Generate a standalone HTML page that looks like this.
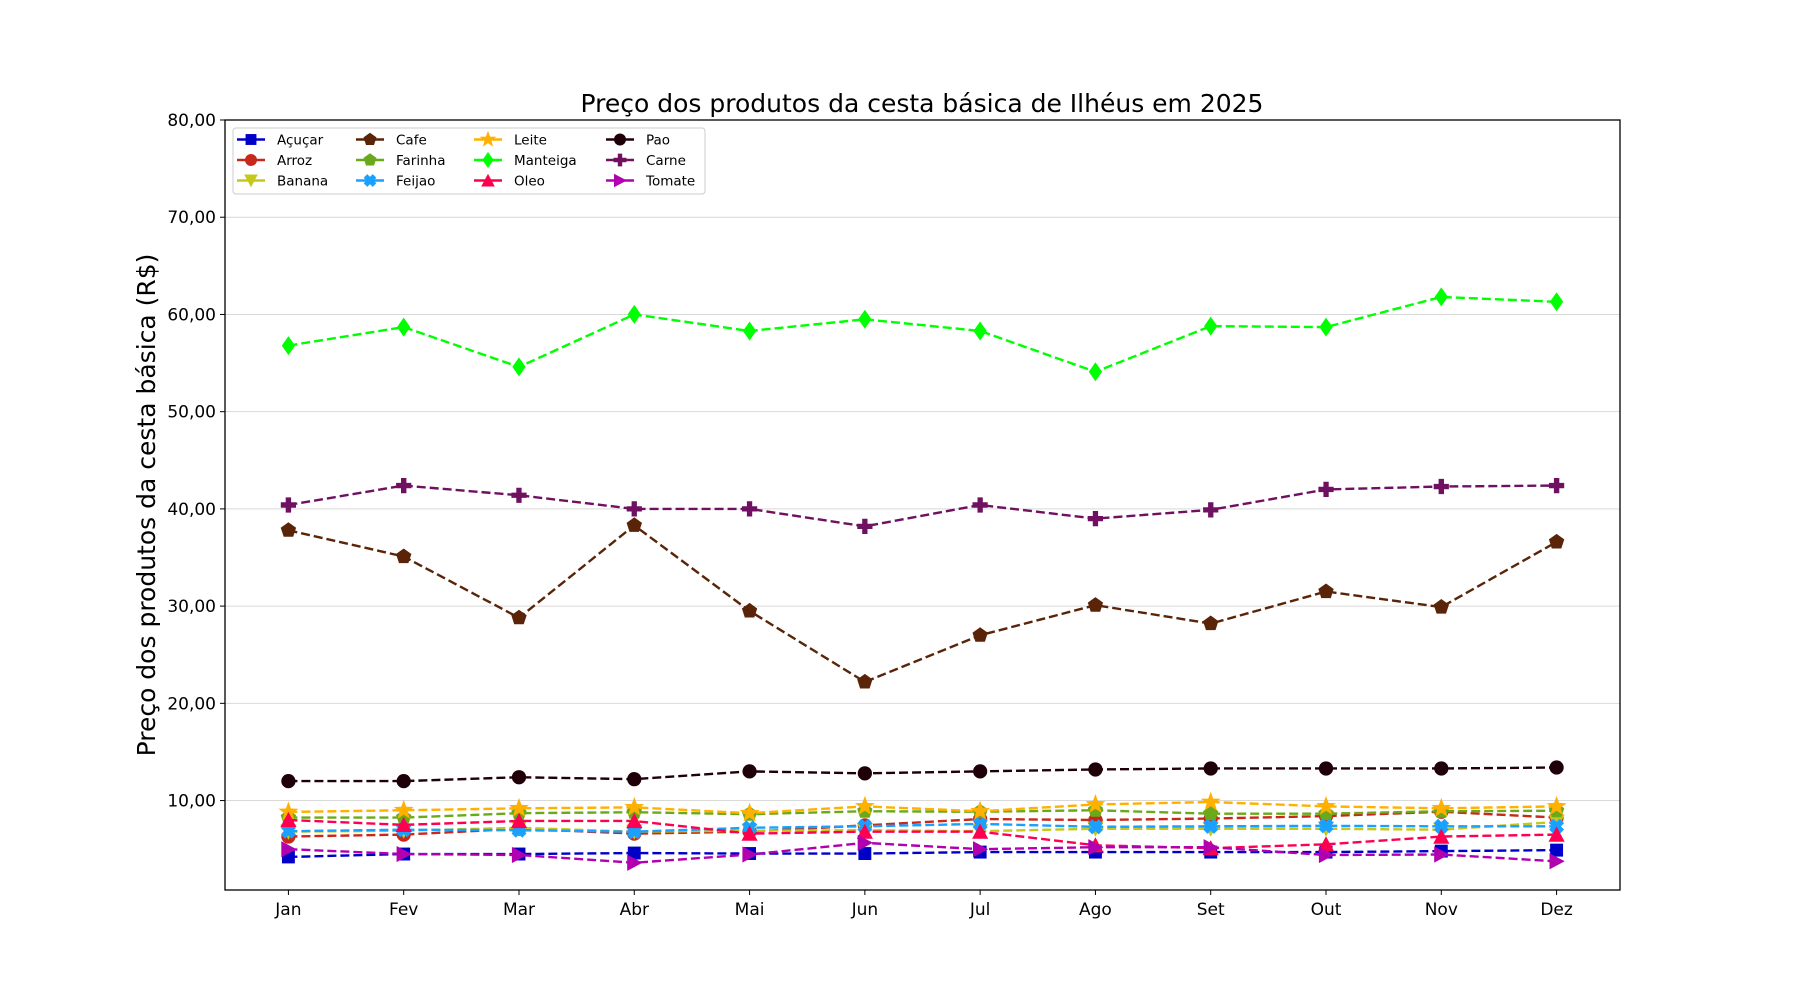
<!DOCTYPE html>
<html><head><meta charset="utf-8"><style>
body{margin:0;background:#fff;}
svg{display:block;font-family:"DejaVu Sans","Liberation Sans",sans-serif;}
</style></head><body>
<svg id="chart" width="1800" height="1000" viewBox="0 0 1800 1000">
<text x="922" y="112" font-size="25" text-anchor="middle">Preço dos produtos da cesta básica de Ilhéus em 2025</text>
<text transform="translate(155,505) rotate(-90)" font-size="25" text-anchor="middle">Preço dos produtos da cesta básica (R$)</text>
<g id="grid"></g><g id="series"></g><g id="axes"></g><g id="legend"></g>
</svg>
<script>
const categories=["Jan","Fev","Mar","Abr","Mai","Jun","Jul","Ago","Set","Out","Nov","Dez"];
const yTicks=[10,20,30,40,50,60,70,80];
const yTickLabels=["10,00","20,00","30,00","40,00","50,00","60,00","70,00","80,00"];
const seriesNames=["Açuçar","Arroz","Banana","Cafe","Farinha","Feijao","Leite","Manteiga","Oleo","Pao","Carne","Tomate"];
const acucar=[4.2,4.5,4.5,4.6,4.55,4.55,4.7,4.7,4.7,4.7,4.8,4.9];
const arroz=[6.3,6.5,7.1,6.6,6.8,7.45,8.1,8.0,8.15,8.4,8.85,8.25];
const banana=[6.8,6.9,7.2,6.8,6.9,6.95,6.85,7.1,7.1,7.1,7.0,7.8];
const cafe=[37.8,35.1,28.8,38.3,29.5,22.2,27.0,30.1,28.2,31.5,29.9,36.6];
const farinha=[8.25,8.25,8.7,8.8,8.6,8.9,8.85,9.0,8.65,8.65,8.9,8.95];
const feijao=[6.85,7.0,6.95,6.8,7.2,7.35,7.6,7.3,7.35,7.4,7.35,7.35];
const leite=[8.83,9.0,9.2,9.3,8.7,9.4,8.9,9.6,9.85,9.4,9.2,9.4];
const manteiga=[56.8,58.7,54.6,60.0,58.3,59.5,58.3,54.1,58.8,58.7,61.8,61.3];
const oleo=[8.0,7.5,7.9,7.9,6.6,6.8,6.8,5.4,5.1,5.5,6.3,6.5];
const pao=[12.0,12.0,12.4,12.2,13.0,12.8,13.0,13.2,13.3,13.3,13.3,13.4];
const carne=[40.4,42.4,41.4,40.0,40.0,38.2,40.4,39.0,39.9,42.0,42.3,42.4];
const tomate=[5.0,4.5,4.4,3.6,4.45,5.65,5.0,5.2,5.2,4.4,4.45,3.75];
const seriesValues=[acucar,arroz,banana,cafe,farinha,feijao,leite,manteiga,oleo,pao,carne,tomate];
const colors=["#0000c8","#c8281c","#c4c81a","#5a2409","#6aaa1a","#1aa0ff","#ffb000","#00ff00","#ff0050","#200008","#701060","#b000b0"];
const markers=["s","o","v","p","p","X","*","D","^","o","P",">"];

const L=225,R=1620,T=120,B=890,YMIN=0.8,YMAX=80;
const x=i=>L+(i+0.55)*(R-L)/12.1;
const y=v=>B-(v-YMIN)*(B-T)/(YMAX-YMIN);
const NS="http://www.w3.org/2000/svg";
function mk(tag,at,parent){const e=document.createElementNS(NS,tag);for(const k in at)e.setAttribute(k,at[k]);parent.appendChild(e);return e;}
function markerShape(type,cx,cy,r,color,parent){
  let pts;
  if(type==="o") return mk("circle",{cx:cx,cy:cy,r:r*0.75,fill:color},parent);
  if(type==="s") return mk("rect",{x:cx-r*0.68,y:cy-r*0.68,width:r*1.36,height:r*1.36,fill:color},parent);
  const poly=arr=>mk("polygon",{points:arr.map(p=>(cx+p[0]).toFixed(1)+","+(cy+p[1]).toFixed(1)).join(" "),fill:color},parent);
  if(type==="v") return poly([[-r*0.85,-r*0.75],[r*0.85,-r*0.75],[0,r*0.85]]);
  if(type==="^") return poly([[-r*0.85,r*0.75],[r*0.85,r*0.75],[0,-r*0.85]]);
  if(type===">") return poly([[-r*0.75,-r*0.85],[-r*0.75,r*0.85],[r*0.85,0]]);
  if(type==="D") return poly([[0,-r],[r*0.7,0],[0,r],[-r*0.7,0]]);
  if(type==="p"){pts=[];for(let k=0;k<5;k++){const a=-Math.PI/2+k*2*Math.PI/5;pts.push([r*0.85*Math.cos(a),r*0.85*Math.sin(a)]);}return poly(pts);}
  if(type==="*"){pts=[];for(let k=0;k<10;k++){const a=-Math.PI/2+k*Math.PI/5;const rr=k%2?r*0.45:r*1.1;pts.push([rr*Math.cos(a),rr*Math.sin(a)]);}return poly(pts);}
  if(type==="P"){const a=r*0.28,b=r*0.8;return poly([[-a,-b],[a,-b],[a,-a],[b,-a],[b,a],[a,a],[a,b],[-a,b],[-a,a],[-b,a],[-b,-a],[-a,-a]]);}
  if(type==="X"){const g=mk("g",{},parent);const a=r*0.32,b=r*0.8;
    [[45],[-45]].forEach(d=>mk("rect",{x:cx-b,y:cy-a,width:2*b,height:2*a,fill:color,transform:`rotate(${d[0]} ${cx} ${cy})`},g));return g;}
}
const grid=document.getElementById("grid"),axes=document.getElementById("axes"),ser=document.getElementById("series"),leg=document.getElementById("legend");
yTicks.forEach((t,i)=>{
  const gl=mk("line",{x1:L,x2:R,y1:y(t),y2:y(t),stroke:"#d9d9d9","stroke-width":1},grid);
  
  
  mk("line",{x1:L-5,x2:L,y1:y(t),y2:y(t),stroke:"#000","stroke-width":1},axes);
  const tl=mk("text",{x:L-9,y:y(t)+6,"font-size":17,"text-anchor":"end"},axes);tl.textContent=yTickLabels[i];
  
  
});
categories.forEach((c,i)=>{
  mk("line",{x1:x(i),x2:x(i),y1:B,y2:B+5,stroke:"#000","stroke-width":1},axes);
  const tl=mk("text",{x:x(i),y:B+25,"font-size":17,"text-anchor":"middle"},axes);tl.textContent=c;
  
  
});
const frame=mk("rect",{x:L,y:T,width:R-L,height:B-T,fill:"none",stroke:"#000","stroke-width":1.3},axes);


seriesValues.forEach((vals,s)=>{
  const g=mk("g",{},ser);
  
  
  mk("polyline",{points:vals.map((v,i)=>x(i)+","+y(v)).join(" "),fill:"none",stroke:colors[s],"stroke-width":2.4,"stroke-dasharray":"9,4"},g);
  vals.forEach((v,i)=>{const m=markerShape(markers[s],x(i),y(v),9.5,colors[s],g);
    
    });
});
const lb=mk("rect",{x:233,y:128,width:472,height:66,rx:3,fill:"#fff","fill-opacity":0.8,stroke:"#ccc"},leg);


seriesNames.forEach((n,s)=>{
  const col=Math.floor(s/3),row=s%3;
  const mx=[251,370,488,620][col],my=139.5+row*20.5;
  const g=mk("g",{},leg);
  
  
  mk("line",{x1:mx-14,x2:mx+14,y1:my,y2:my,stroke:colors[s],"stroke-width":2.4},g);
  markerShape(markers[s],mx,my,8,colors[s],g);
  const t=mk("text",{x:mx+26,y:my+5,"font-size":13.5},g);t.textContent=n;
});
</script>
</body></html>
